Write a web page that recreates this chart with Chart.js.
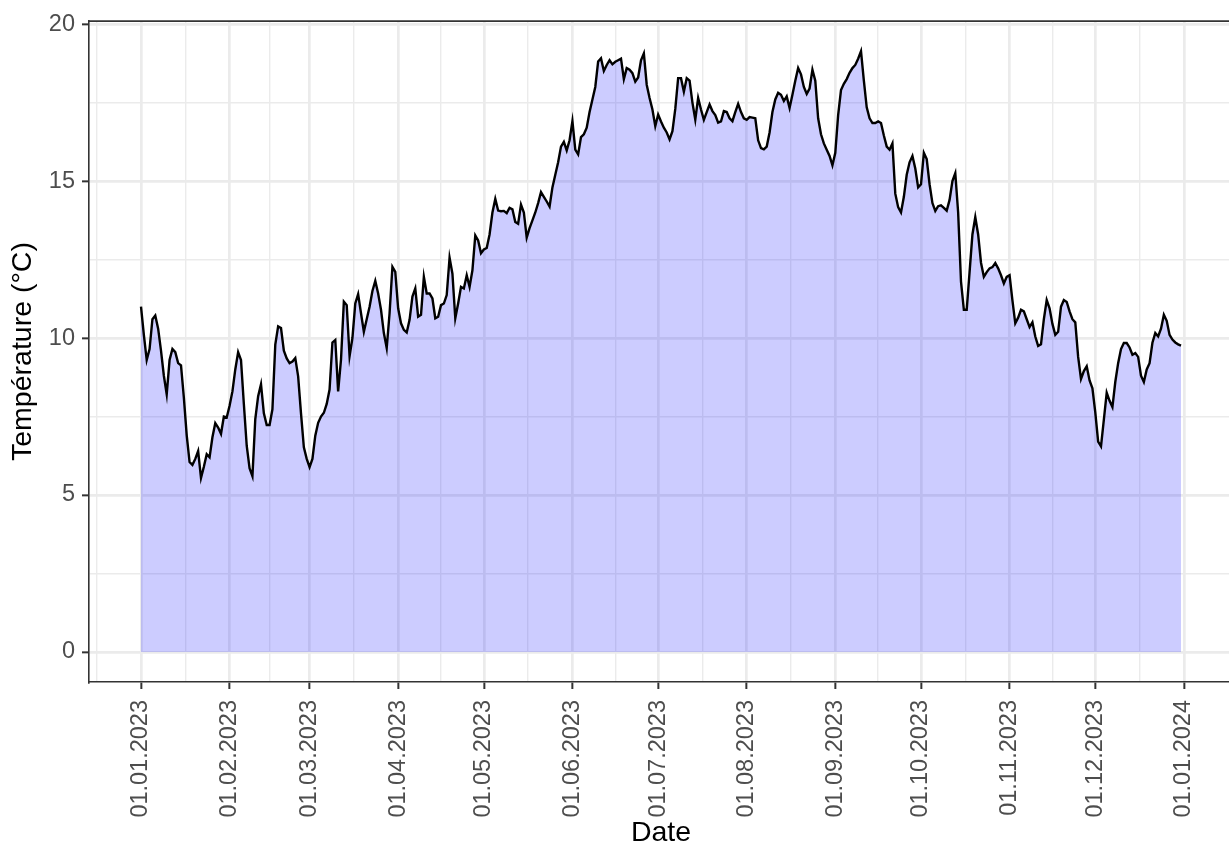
<!DOCTYPE html>
<html lang="fr">
<head>
<meta charset="utf-8">
<script src="https://cdn.jsdelivr.net/npm/chart.js@4"></script>
<style>
  html, body { margin: 0; padding: 0; background: #fff; overflow: hidden; }
  #wrap { position: relative; width: 1233px; height: 847px; }
</style>
</head>
<body>
<div id="wrap"><canvas id="tempChart"></canvas></div>
<script>
// daily mean temperature 2023 (°C), one array per month
const jan = [11.0, 10.1, 9.3, 9.65, 10.6, 10.72, 10.3, 9.6, 8.8, 8.21, 9.3, 9.65, 9.55, 9.2, 9.13, 8.1, 6.9, 6.05, 5.96, 6.15, 6.4, 5.54, 5.9, 6.3, 6.2, 6.84, 7.29, 7.15, 6.95, 7.5, 7.47];
const feb = [7.84, 8.3, 9.0, 9.55, 9.3, 7.9, 6.57, 5.85, 5.6, 7.42, 8.15, 8.53, 7.6, 7.23, 7.23, 7.73, 9.79, 10.37, 10.32, 9.6, 9.35, 9.2, 9.25, 9.36, 8.78, 7.6, 6.52, 6.15];
const mar = [5.89, 6.15, 6.89, 7.3, 7.5, 7.62, 7.9, 8.36, 9.86, 9.94, 8.3, 9.31, 11.16, 11.05, 9.42, 10.0, 11.1, 11.4, 10.79, 10.2, 10.6, 11.0, 11.5, 11.82, 11.42, 10.9, 10.16, 9.68, 10.79, 12.27, 12.11];
const apr = [10.95, 10.47, 10.26, 10.18, 10.58, 11.32, 11.58, 10.68, 10.74, 11.95, 11.42, 11.42, 11.26, 10.63, 10.68, 11.05, 11.1, 11.37, 12.56, 12.05, 10.63, 11.1, 11.63, 11.58, 12.0, 11.63, 12.16, 13.27, 13.11, 12.7];
const may = [12.82, 12.87, 13.3, 14.0, 14.43, 14.06, 14.04, 14.05, 13.98, 14.15, 14.1, 13.7, 13.64, 14.25, 14.0, 13.2, 13.5, 13.75, 14.0, 14.3, 14.65, 14.5, 14.35, 14.19, 14.8, 15.2, 15.6, 16.1, 16.25, 15.98, 16.3];
const jun = [16.91, 16.0, 15.85, 16.4, 16.49, 16.7, 17.2, 17.6, 18.0, 18.81, 18.91, 18.51, 18.7, 18.85, 18.72, 18.8, 18.85, 18.9, 18.25, 18.6, 18.55, 18.44, 18.17, 18.3, 18.85, 19.07, 18.07, 17.65, 17.28, 16.75];
const jul = [17.12, 16.9, 16.7, 16.55, 16.33, 16.59, 17.3, 18.28, 18.28, 17.85, 18.28, 18.2, 17.5, 16.96, 17.65, 17.28, 16.95, 17.2, 17.44, 17.23, 17.1, 16.86, 16.9, 17.23, 17.2, 17.0, 16.91, 17.2, 17.46, 17.2, 17.0];
const aug = [16.95, 17.04, 17.02, 17.0, 16.3, 16.05, 16.01, 16.1, 16.55, 17.2, 17.6, 17.81, 17.75, 17.55, 17.7, 17.33, 17.75, 18.2, 18.6, 18.4, 18.0, 17.78, 17.95, 18.55, 18.2, 17.0, 16.49, 16.2, 16.0, 15.8, 15.5];
const sep = [15.9, 17.1, 17.9, 18.1, 18.25, 18.45, 18.6, 18.7, 18.9, 19.14, 18.2, 17.35, 17.0, 16.85, 16.85, 16.9, 16.85, 16.45, 16.1, 16.0, 16.2, 14.6, 14.17, 14.0, 14.5, 15.2, 15.6, 15.8, 15.4, 14.8];
const oct = [14.9, 15.9, 15.7, 14.9, 14.3, 14.05, 14.2, 14.23, 14.15, 14.06, 14.4, 15.0, 15.25, 14.0, 11.8, 10.9, 10.9, 12.1, 13.3, 13.85, 13.3, 12.4, 11.95, 12.1, 12.22, 12.26, 12.39, 12.22, 12.0, 11.74, 11.95];
const nov = [12.0, 11.2, 10.47, 10.65, 10.9, 10.85, 10.6, 10.35, 10.5, 10.05, 9.75, 9.8, 10.6, 11.21, 10.95, 10.45, 10.1, 10.2, 11.0, 11.21, 11.15, 10.85, 10.6, 10.5, 9.4, 8.7, 8.95, 9.1, 8.65, 8.4];
const dec = [7.63, 6.7, 6.55, 7.4, 8.26, 8.0, 7.8, 8.6, 9.2, 9.65, 9.84, 9.84, 9.7, 9.47, 9.52, 9.4, 8.8, 8.6, 9.0, 9.2, 9.85, 10.16, 10.05, 10.3, 10.74, 10.55, 10.1, 9.95, 9.86, 9.8, 9.76];

// x axis: day index since 01.01.2023
const monthStarts = [0, 31, 59, 90, 120, 151, 181, 212, 243, 273, 304, 334, 365];
const monthLabels = ['01.01.2023', '01.02.2023', '01.03.2023', '01.04.2023', '01.05.2023', '01.06.2023',
                     '01.07.2023', '01.08.2023', '01.09.2023', '01.10.2023', '01.11.2023', '01.12.2023', '01.01.2024'];
const minorDays = [-15.5, 15.5, 45, 74.5, 105, 135.5, 166, 196.5, 227.5, 258, 288.5, 319, 349.5];

const yMajor = [0, 5, 10, 15, 20];
const yMinor = [2.5, 7.5, 12.5, 17.5];

const temps = [].concat(jan, feb, mar, apr, may, jun, jul, aug, sep, oct, nov, dec);
const points = temps.map((t, i) => ({ x: i, y: t }));

const GRID = '#ebebeb';
const INK = '#333333';

Chart.defaults.font.family = '"Liberation Sans", Arial, Helvetica, sans-serif';
Chart.defaults.animation = false;

// top edge of the panel (theme_bw border)
const panelTop = {
    id: 'panelTop',
    afterDraw(chart) {
        const { ctx, chartArea } = chart;
        ctx.save();
        ctx.strokeStyle = INK;
        ctx.lineWidth = 1.6;
        ctx.beginPath();
        ctx.moveTo(chartArea.left, chartArea.top);
        ctx.lineTo(chartArea.right, chartArea.top);
        ctx.stroke();
        ctx.restore();
    }
};

const xMajorSet = new Set(monthStarts);
const yMajorSet = new Set(yMajor);

new Chart(document.getElementById('tempChart'), {
    type: 'line',
    data: {
        datasets: [{
            data: points,
            borderColor: '#000000',
            borderWidth: 2.4,
            backgroundColor: 'rgba(0, 0, 255, 0.2)',
            fill: 'origin',
            pointRadius: 0,
            tension: 0
        }]
    },
    options: {
        responsive: true,
        maintainAspectRatio: false,
        layout: { padding: { top: 16, right: 0, bottom: 0, left: 0 } },
        plugins: { legend: { display: false }, tooltip: { enabled: false } },
        scales: {
            x: {
                type: 'linear',
                min: -18.2,
                max: 382.2,
                afterBuildTicks: (scale) => {
                    scale.ticks = monthStarts.concat(minorDays)
                        .sort((a, b) => a - b)
                        .map(v => ({ value: v }));
                },
                afterFit: (scale) => { scale.height = 165; },
                ticks: {
                    autoSkip: false,
                    minRotation: 90,
                    maxRotation: 90,
                    padding: 11,
                    color: '#4d4d4d',
                    font: { size: 23.5 },
                    callback: (v) => {
                        const i = monthStarts.indexOf(v);
                        return i >= 0 ? monthLabels[i] : '';
                    }
                },
                grid: {
                    color: GRID,
                    lineWidth: (c) => xMajorSet.has(c.tick && c.tick.value) ? 2.7 : 1.4,
                    tickColor: (c) => xMajorSet.has(c.tick && c.tick.value) ? INK : 'rgba(0,0,0,0)',
                    tickWidth: 2,
                    tickLength: 7
                },
                border: { display: true, color: INK, width: 1.6 },
                title: {
                    display: true,
                    text: 'Date',
                    color: '#000000',
                    font: { size: 28.5, lineHeight: 1.0 },
                    padding: { top: 0, bottom: 0 }
                }
            },
            y: {
                min: -0.957,
                max: 20.097,
                afterBuildTicks: (scale) => {
                    scale.ticks = yMajor.concat(yMinor)
                        .sort((a, b) => a - b)
                        .map(v => ({ value: v }));
                },
                afterFit: (scale) => { scale.width = 89; },
                ticks: {
                    padding: 7,
                    color: '#4d4d4d',
                    font: { size: 23.5 },
                    callback: (v) => yMajorSet.has(v) ? String(v) : ''
                },
                grid: {
                    color: GRID,
                    lineWidth: (c) => yMajorSet.has(c.tick && c.tick.value) ? 2.7 : 1.4,
                    tickColor: (c) => yMajorSet.has(c.tick && c.tick.value) ? INK : 'rgba(0,0,0,0)',
                    tickWidth: 2,
                    tickLength: 7
                },
                border: { display: true, color: INK, width: 1.6 },
                title: {
                    display: true,
                    text: 'Température (°C)',
                    color: '#000000',
                    font: { size: 28.5 },
                    padding: { top: 6, bottom: 0 }
                }
            }
        }
    },
    plugins: [panelTop]
});
</script>
</body>
</html>
